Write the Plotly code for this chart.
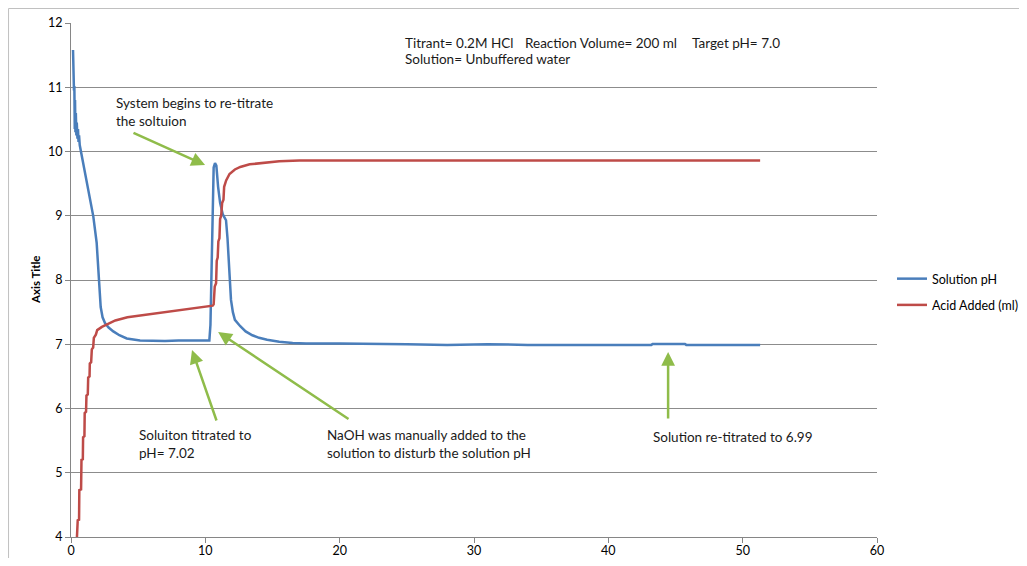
import plotly.graph_objects as go

# Solution pH (blue)
ph_time = [0.15, 0.2, 0.22, 0.25, 0.28, 0.3, 0.33, 0.36, 0.4, 0.43, 0.48, 0.52, 0.56, 0.6, 0.65, 0.72, 0.8,
           1.17, 1.66, 1.91, 2.11, 2.21, 2.35, 2.53, 2.8, 3.15, 3.6, 4.15, 5.14, 6.0, 7.0, 8.0, 9.0, 10.3,
           10.38, 10.45, 10.5, 10.55, 10.62, 10.72, 10.82, 10.95, 11.1, 11.3, 11.54, 11.65, 11.74, 11.85, 11.91,
           12.05, 12.2, 12.6, 13.0, 13.5, 14.0, 14.6, 15.5, 16.5, 17.5, 20, 22, 25, 28, 31, 34, 37, 40,
           43.2, 43.3, 45.7, 45.8, 48, 51.3]
ph_value = [11.58, 11.2, 10.95, 11.02, 10.35, 10.8, 10.3, 10.6, 10.25, 10.45, 10.2, 10.35, 10.15, 10.25, 10.1, 10.02, 9.99,
            9.51, 8.99, 8.58, 8.0, 7.58, 7.42, 7.33, 7.26, 7.2, 7.14, 7.09, 7.06, 7.05, 7.05, 7.06, 7.06, 7.06,
            7.3, 8.2, 8.9, 9.45, 9.75, 9.82, 9.78, 9.45, 9.2, 9.02, 8.93, 8.65, 8.31, 7.95, 7.69,
            7.5, 7.38, 7.28, 7.2, 7.14, 7.1, 7.07, 7.04, 7.02, 7.01, 7.01, 7.01, 7.0, 6.99, 7.0, 6.99, 6.99, 6.99,
            6.99, 7.005, 7.005, 6.99, 6.99, 6.99]

# Acid added (red)
acid_time = [0.4, 0.5, 0.6, 0.62, 0.75, 0.78, 0.88, 0.9, 1.0, 1.02, 1.12, 1.15, 1.25, 1.28, 1.38, 1.4, 1.5,
             1.55, 1.65, 1.7, 1.85, 1.95, 2.3, 2.8, 3.3, 4.2, 6.0, 8.0, 10.55, 10.62, 10.7, 10.8, 10.85, 10.92,
             10.97, 11.05, 11.1, 11.18, 11.25, 11.35, 11.4, 11.55, 11.8, 12.2, 12.6, 13.3, 14.1, 15.5, 17,
             20, 30, 40, 51.3]
acid_value = [3.8, 4.26, 4.27, 4.73, 4.74, 5.2, 5.21, 5.55, 5.57, 5.93, 5.95, 6.2, 6.22, 6.48, 6.5, 6.7, 6.72,
              6.92, 6.95, 7.1, 7.15, 7.22, 7.27, 7.32, 7.37, 7.42, 7.47, 7.52, 7.6, 7.62, 7.9, 7.95, 8.3, 8.35,
              8.6, 8.65, 8.95, 9.0, 9.2, 9.25, 9.45, 9.55, 9.65, 9.72, 9.76, 9.8, 9.82, 9.85, 9.86,
              9.86, 9.86, 9.86, 9.86]

font = "Lato, 'Open Sans', sans-serif"
arrow_green = "#8fbc4a"

fig = go.Figure()
fig.add_trace(go.Scatter(x=ph_time, y=ph_value, mode="lines", name="Solution pH",
                         legendgroup="a", line=dict(color="#4a7ebb", width=2.5)))
fig.add_trace(go.Scatter(x=acid_time, y=acid_value, mode="lines", name="Acid Added (ml)",
                         legendgroup="b", line=dict(color="#be4b48", width=2.5)))

notes = [
    dict(x=24.72, y=11.69, text="Titrant= 0.2M HCl"),
    dict(x=33.66, y=11.69, text="Reaction Volume= 200 ml"),
    dict(x=46.09, y=11.69, text="Target pH= 7.0"),
    dict(x=24.72, y=11.435, text="Solution= Unbuffered water"),
    dict(x=3.2, y=10.62, text="System begins to re-titrate<br>the soltuion"),
    dict(x=4.91, y=5.447, text="Soluiton titrated to<br>pH= 7.02"),
    dict(x=18.91, y=5.447, text="NaOH was manually added to the<br>solution to disturb the solution pH"),
    dict(x=43.19, y=5.556, text="Solution re-titrated to 6.99"),
]
for n in notes:
    fig.add_annotation(x=n["x"], y=n["y"], text=n["text"], showarrow=False, xanchor="left",
                       yanchor="middle", align="left", font=dict(family=font, size=13.5, color="#1a1a1a"))

arrows = [
    ((4.54, 10.30), (9.98, 9.79)),
    ((10.87, 5.79), (9.01, 6.91)),
    ((20.77, 5.82), (10.95, 7.19)),
    ((44.45, 5.82), (44.45, 6.88)),
]
for (tx, ty), (hx, hy) in arrows:
    fig.add_annotation(x=hx, y=hy, ax=tx, ay=ty, axref="x", ayref="y", text="", showarrow=True,
                       arrowhead=2, arrowsize=1.1, arrowwidth=2.5, arrowcolor=arrow_green)

fig.add_annotation(x=-0.0447, y=0.5, xref="paper", yref="paper", xanchor="center", yanchor="middle",
                   text="<b>Axis Title</b>", textangle=-90, showarrow=False,
                   font=dict(family=font, size=11.5, color="#000"))

# chart frame
fig.add_shape(type="rect", xref="paper", yref="paper", x0=-0.0775, y0=-0.08, x1=1.2, y1=1.0282,
              line=dict(color="#c0c0c0", width=1))

# page body keeps its 8px margin, so the figure is sized to fit inside it
fig.update_layout(
    width=1011, height=550,
    margin=dict(l=63, r=142, t=15, b=21),
    paper_bgcolor="white", plot_bgcolor="white",
    font=dict(family=font, size=12.5, color="#000"),
    showlegend=True,
    legend=dict(xref="container", yref="container", x=0.8744, y=0.4836, xanchor="left",
                yanchor="middle", traceorder="grouped", tracegroupgap=7,
                font=dict(family=font, size=12.5), itemwidth=30),
    xaxis=dict(range=[0, 60], dtick=10, showgrid=False, showline=True, linecolor="#868686",
               ticks="outside", ticklen=5, tickcolor="#868686", zeroline=False, automargin=False,
               ticklabelstandoff=-3),
    yaxis=dict(range=[4, 12], dtick=1, showgrid=True, gridcolor="#8c8c8c", gridwidth=1,
               showline=True, linecolor="#868686", ticks="outside", ticklen=5, tickcolor="#868686",
               zeroline=False, automargin=False),
)

fig.write_html("out.html")
